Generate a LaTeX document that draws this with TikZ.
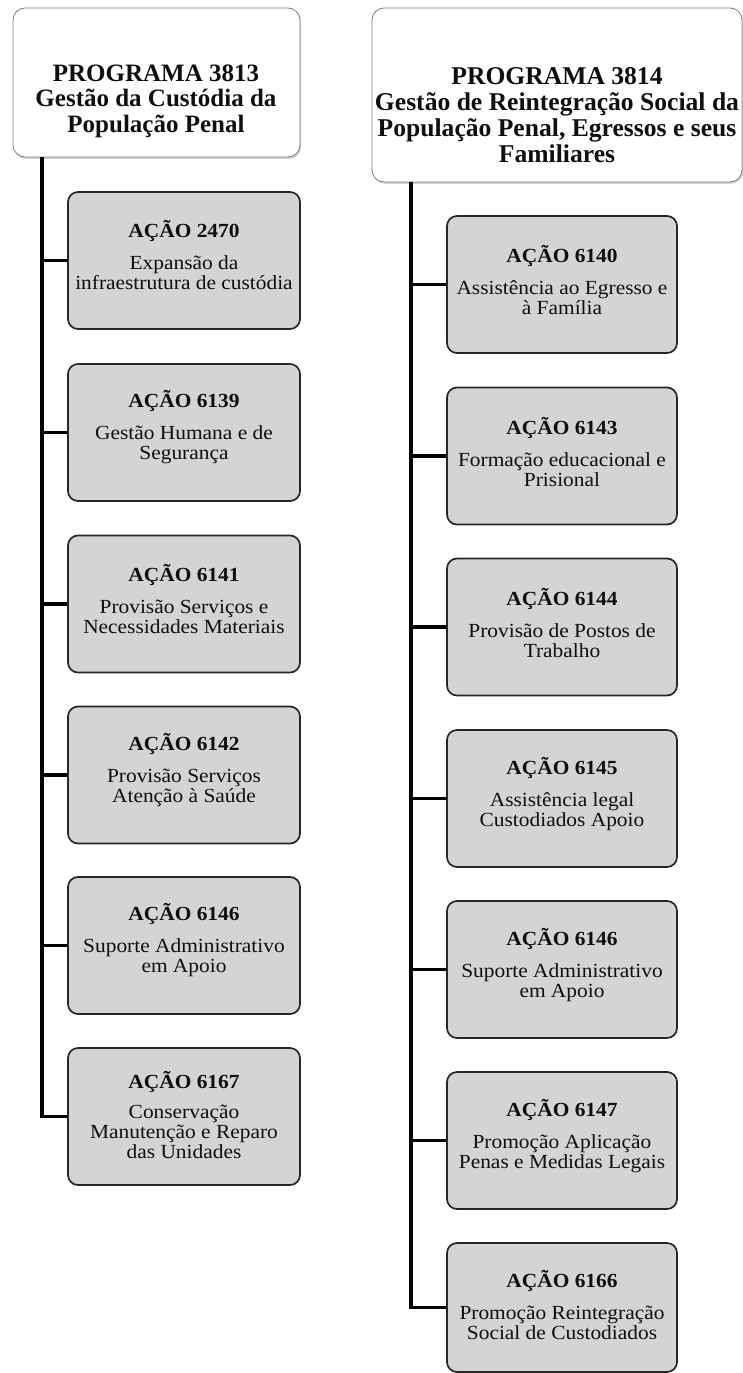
\documentclass[tikz,border=0pt]{standalone}
\usepackage{fontspec}
\setmainfont{Liberation Serif}
\newfontfamily\wideserif[FakeStretch=1.07]{Liberation Serif}
\usetikzlibrary{shadows}
\definecolor{boxgray}{RGB}{212,212,212}
\definecolor{hdrborder}{RGB}{125,125,125}
\definecolor{txt}{RGB}{15,15,15}
\begin{document}
\begin{tikzpicture}[x=1pt,y=-1pt,
  hdrbox/.style={draw=hdrborder, line width=0.8pt, fill=white, rounded corners=12pt,
    drop shadow={shadow xshift=1.2pt,shadow yshift=-1.8pt,opacity=0.35}, inner sep=0pt},
  actbox/.style={draw=black!85, line width=1.7pt, fill=boxgray, rounded corners=10pt,
    inner sep=0pt, minimum height=137pt},
  lbox/.style={actbox, minimum width=232pt},
  rbox/.style={actbox, minimum width=230pt},
  hdrtext/.style={align=center, text=txt, font=\fontsize{25}{25.5}\selectfont\bfseries, inner sep=0pt},
  acttext/.style={align=center, text=txt, font=\wideserif\fontsize{20}{20}\selectfont, inner sep=0pt},
  trunk/.style={line width=3.6pt, black, line join=miter}]
\useasboundingbox (0,0) rectangle (743,1373);
\fill[white] (0,0) rectangle (743,1373);

% ---------- headers ----------
\node[hdrbox, minimum width=287pt, minimum height=149pt] (H1) at (156.5,82.5) {};
\node[hdrtext] (H1t) at (156,101) {PROGRAMA 3813\\Gestão da Custódia da\\População Penal};

\node[hdrbox, minimum width=370pt, minimum height=174pt] (H2) at (557,95) {};
\node[hdrtext, font=\fontsize{25.6}{26}\selectfont\bfseries] (H2t) at (557,115) {PROGRAMA 3814\\Gestão de Reintegração Social da\\População Penal, Egressos e seus\\Familiares};

\coordinate (L0) at (42,157);
\coordinate (R0) at (411,182);

% ---------- left column ----------
\node[lbox] (A2470) at (184,260.5) {};
\node[acttext, yshift=5pt] (A2470t) at (A2470) {\textbf{AÇÃO 2470}\\[12pt]Expansão da\\infraestrutura de custódia};
\node[lbox] (A6139) at (184,432.5) {};
\node[acttext, yshift=5pt] (A6139t) at (A6139) {\textbf{AÇÃO 6139}\\[12pt]Gestão Humana e de\\Segurança};
\node[lbox] (A6141) at (184,604) {};
\node[acttext, yshift=5pt] (A6141t) at (A6141) {\textbf{AÇÃO 6141}\\[12pt]Provisão Serviços e\\Necessidades Materiais};
\node[lbox] (A6142) at (184,775) {};
\node[acttext, yshift=5pt] (A6142t) at (A6142) {\textbf{AÇÃO 6142}\\[12pt]Provisão Serviços\\Atenção à Saúde};
\node[lbox] (A6146) at (184,945.5) {};
\node[acttext, yshift=5pt] (A6146t) at (A6146) {\textbf{AÇÃO 6146}\\[12pt]Suporte Administrativo\\em Apoio};
\node[lbox] (A6167) at (184,1116.5) {};
\node[acttext, yshift=2pt] (A6167t) at (A6167) {\textbf{AÇÃO 6167}\\[10pt]Conservação\\Manutenção e Reparo\\das Unidades};

% ---------- right column ----------
\node[rbox] (B6140) at (562,284.5) {};
\node[acttext, yshift=4pt] (B6140t) at (B6140) {\textbf{AÇÃO 6140}\\[12pt]Assistência ao Egresso e\\à Família};
\node[rbox] (B6143) at (562,456) {};
\node[acttext, yshift=4pt] (B6143t) at (B6143) {\textbf{AÇÃO 6143}\\[12pt]Formação educacional e\\Prisional};
\node[rbox] (B6144) at (562,627) {};
\node[acttext, yshift=4pt] (B6144t) at (B6144) {\textbf{AÇÃO 6144}\\[12pt]Provisão de Postos de\\Trabalho};
\node[rbox] (B6145) at (562,798.5) {};
\node[acttext, yshift=4pt] (B6145t) at (B6145) {\textbf{AÇÃO 6145}\\[12pt]Assistência legal\\Custodiados Apoio};
\node[rbox] (B6146) at (562,969.5) {};
\node[acttext, yshift=4pt] (B6146t) at (B6146) {\textbf{AÇÃO 6146}\\[12pt]Suporte Administrativo\\em Apoio};
\node[rbox] (B6147) at (562,1140.5) {};
\node[acttext, yshift=4pt] (B6147t) at (B6147) {\textbf{AÇÃO 6147}\\[12pt]Promoção Aplicação\\Penas e Medidas Legais};
\node[rbox, minimum height=129pt] (B6166) at (562,1307.5) {};
\node[acttext, yshift=3pt] (B6166t) at (B6166) {\textbf{AÇÃO 6166}\\[12pt]Promoção Reintegração\\Social de Custodiados};

% ---------- connectors ----------
\foreach \b in {A2470,A6139,A6141,A6142,A6146,A6167}
  \draw[trunk] (L0) |- (\b.west);
\foreach \b in {B6140,B6143,B6144,B6145,B6146,B6147,B6166}
  \draw[trunk] (R0) |- (\b.west);
\end{tikzpicture}
\end{document}
